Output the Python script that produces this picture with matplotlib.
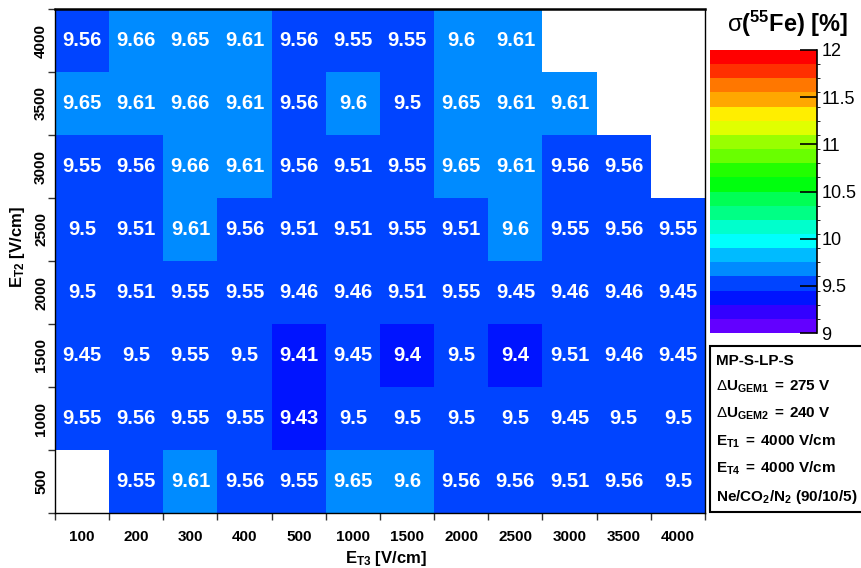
import colorsys
import numpy as np
import matplotlib
matplotlib.use('Agg')
import matplotlib.pyplot as plt
from matplotlib.colors import ListedColormap, BoundaryNorm
from matplotlib.patches import Rectangle

plt.rcParams['font.family'] = ['Liberation Sans', 'DejaVu Sans']
plt.rcParams['mathtext.fontset'] = 'custom'
plt.rcParams['mathtext.rm'] = 'Liberation Sans'
plt.rcParams['mathtext.bf'] = 'Liberation Sans:bold'
plt.rcParams['mathtext.it'] = 'Liberation Sans:italic'
plt.rcParams['mathtext.sf'] = 'Liberation Sans'

# E_T3 columns, E_T2 rows (bottom -> top)
et3 = ['100', '200', '300', '400', '500', '1000', '1500', '2000', '2500', '3000', '3500', '4000']
et2 = ['500', '1000', '1500', '2000', '2500', '3000', '3500', '4000']

nan = np.nan
sig_500  = [nan, 9.55, 9.61, 9.56, 9.55, 9.65, 9.6, 9.56, 9.56, 9.51, 9.56, 9.5]
sig_1000 = [9.55, 9.56, 9.55, 9.55, 9.43, 9.5, 9.5, 9.5, 9.5, 9.45, 9.5, 9.5]
sig_1500 = [9.45, 9.5, 9.55, 9.5, 9.41, 9.45, 9.4, 9.5, 9.4, 9.51, 9.46, 9.45]
sig_2000 = [9.5, 9.51, 9.55, 9.55, 9.46, 9.46, 9.51, 9.55, 9.45, 9.46, 9.46, 9.45]
sig_2500 = [9.5, 9.51, 9.61, 9.56, 9.51, 9.51, 9.55, 9.51, 9.6, 9.55, 9.56, 9.55]
sig_3000 = [9.55, 9.56, 9.66, 9.61, 9.56, 9.51, 9.55, 9.65, 9.61, 9.56, 9.56, nan]
sig_3500 = [9.65, 9.61, 9.66, 9.61, 9.56, 9.6, 9.5, 9.65, 9.61, 9.61, nan, nan]
sig_4000 = [9.56, 9.66, 9.65, 9.61, 9.56, 9.55, 9.55, 9.6, 9.61, nan, nan, nan]

z = np.array([sig_500, sig_1000, sig_1500, sig_2000, sig_2500, sig_3000, sig_3500, sig_4000])

cb_ticks = [9, 9.5, 10, 10.5, 11, 11.5, 12]

# ROOT "pretty" palette (violet -> red), 20 contours between 9 and 12
levels = np.round(np.linspace(9, 12, 21), 2)
cols = []
for i in range(20):
  k = int((i + 0.99) * 50 / 20)
  hue = 280 - (k + 1) * 5.6
  cols.append(colorsys.hls_to_rgb(hue / 360., 0.5, 1.0))
cmap = ListedColormap(cols)
cmap.set_bad('white')
norm = BoundaryNorm(levels, cmap.N)

W, H = 862, 568
fig = plt.figure(figsize=(W / 100, H / 100), dpi=100)
ax = fig.add_axes([55 / W, 1 - 513 / H, 650 / W, 504 / H])

ax.pcolormesh(np.arange(13), np.arange(9), np.ma.masked_invalid(z), cmap=cmap, norm=norm)
for r in range(z.shape[0]):
  for c in range(z.shape[1]):
    if not np.isnan(z[r, c]):
      ax.text(c + 0.5, r + 0.5, '%g' % z[r, c], ha='center', va='center',
              color='white', fontsize=14.5, fontweight='bold')

ax.set_xlim(0, 12)
ax.set_ylim(0, 8)
ax.set_xticks(np.arange(12) + 0.5)
ax.set_xticklabels(et3, fontsize=11, fontweight='bold')
ax.set_yticks(np.arange(8) + 0.5)
ax.set_yticklabels(et2, fontsize=11, fontweight='bold', rotation=90, va='center')
ax.set_xticks(np.arange(13), minor=True)
ax.set_yticks(np.arange(9), minor=True)
ax.tick_params(which='major', length=0)
ax.tick_params(axis='x', which='major', pad=12)
ax.tick_params(axis='y', which='major', pad=5)
ax.tick_params(which='minor', length=5, width=1, direction='out', color='#333333')
for s in ax.spines.values():
  s.set_linewidth(1.0)
ax.spines['top'].set_linewidth(1.8)

fig.text(18 / W, 1 - 247 / H, r'$\mathbf{E_{T2}\ [V/cm]}$', rotation=90,
         ha='center', va='center', fontsize=12)
fig.text(386 / W, 1 - 558 / H, r'$\mathbf{E_{T3}\ [V/cm]}$',
         ha='center', va='center', fontsize=12)

# colour bar
cax = fig.add_axes([710 / W, 1 - 333 / H, 107 / W, 283 / H])
sm = plt.cm.ScalarMappable(cmap=cmap, norm=norm)
cb = fig.colorbar(sm, cax=cax, ticks=cb_ticks)
cb.outline.set_visible(False)
cb.ax.set_yticklabels(['%g' % t for t in cb_ticks], fontsize=13)
cb.ax.tick_params(direction='in', length=12, width=1.2, pad=3)
cax.plot([1, 1], [0, 1], transform=cax.transAxes, color='black', lw=1.2, clip_on=False)
fig.text(788 / W, 1 - 24 / H, r'$\mathrm{\sigma}\mathbf{(^{55}Fe)\ [\%]}$',
         ha='center', va='center', fontsize=17)

# info box
fig.patches.append(Rectangle((710 / W, 1 - 512 / H), 0.3, 166 / H, transform=fig.transFigure,
                             facecolor='white', edgecolor='black', lw=1.5))
info = ['MP-S-LP-S',
        r'$\mathrm{\Delta}\mathbf{U_{GEM1}\;{=}\;275\ V}$',
        r'$\mathrm{\Delta}\mathbf{U_{GEM2}\;{=}\;240\ V}$',
        r'$\mathbf{E_{T1}\;{=}\;4000\ V/cm}$',
        r'$\mathbf{E_{T4}\;{=}\;4000\ V/cm}$',
        r'$\mathbf{Ne/CO_2/N_2\ (90/10/5)}$']
base = [365, 391, 418, 446, 473, 501]
for t, b in zip(info, base):
  fig.text(716 / W, 1 - b / H, t, ha='left', va='baseline', fontsize=11, fontweight='bold')

fig.savefig('out.png', dpi=100)
